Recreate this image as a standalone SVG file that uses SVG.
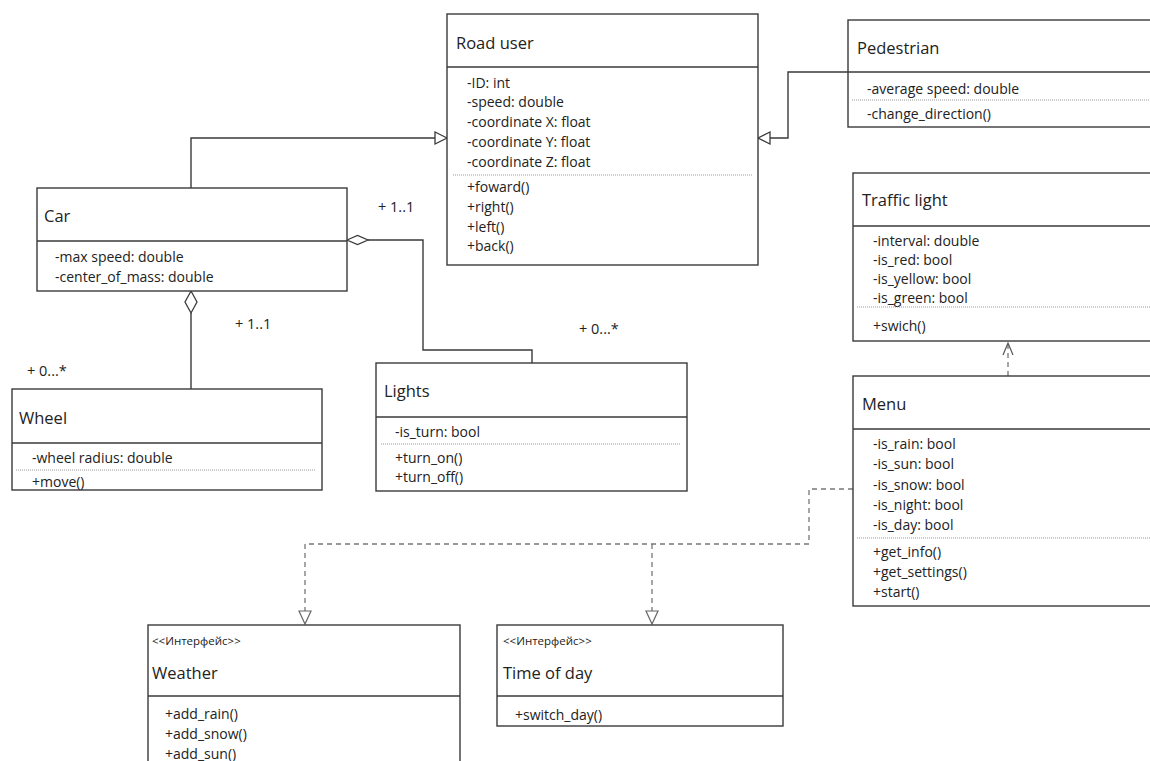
<svg xmlns="http://www.w3.org/2000/svg" width="1150" height="761" viewBox="0 0 1150 761">
<style>
.box{fill:#fff;stroke:#3a3a3a;stroke-width:1.4}
.div{stroke:#3a3a3a;stroke-width:1.4}
.dot{stroke:#999;stroke-width:1;stroke-dasharray:1,1}
.t{font-family:"Open Sans","DejaVu Sans",sans-serif;font-size:16.5px;fill:#222;dominant-baseline:central}
.a{font-family:"Open Sans","DejaVu Sans",sans-serif;font-size:14px;fill:#222;dominant-baseline:central}
.s{font-family:"Open Sans","DejaVu Sans",sans-serif;font-size:11.5px;fill:#222;dominant-baseline:central}
.m{font-family:"Open Sans","DejaVu Sans",sans-serif;font-size:14.5px;fill:#222;dominant-baseline:central}
.ln{fill:none;stroke:#3a3a3a;stroke-width:1.4}
.dl{fill:none;stroke:#777;stroke-width:1.3;stroke-dasharray:5,4}
.tri{fill:#fff;stroke:#3a3a3a;stroke-width:1.3}
.tri2{fill:#fff;stroke:#666;stroke-width:1.2}
</style>
<rect width="1150" height="761" fill="#fff"/>
<g id="connectors">
<polyline class="ln" points="191,188 191,138 435,138"/>
<polygon class="tri" points="447,138 435,132 435,144"/>
<polyline class="ln" points="848,72 788,72 788,138 770,138"/>
<polygon class="tri" points="758,138 770,132 770,144"/>
<polyline class="ln" points="368,240 423,240 423,350 532,350 532,363"/>
<polygon class="tri" points="347,240 357.5,235.5 368,240 357.5,244.5"/>
<polyline class="ln" points="191,313 191,389"/>
<polygon class="tri" points="191,291 197,302 191,313 185,302"/>
<line class="dl" x1="1008" y1="376" x2="1008" y2="344"/>
<polyline fill="none" stroke="#555" stroke-width="1.2" points="1003,355 1008,343 1013,355"/>
<polyline class="dl" points="853,489 809,489 809,544 305,544 305,611"/>
<line class="dl" x1="652" y1="544" x2="652" y2="611"/>
<polygon class="tri2" points="305,624 299,611 311,611"/>
<polygon class="tri2" points="652,624 646,611 658,611"/>
<text class="m" x="378" y="206">+ 1..1</text>
<text class="m" x="235" y="323">+ 1..1</text>
<text class="m" x="27" y="370">+ 0...*</text>
<text class="m" x="579" y="328">+ 0...*</text>
</g>
<g id="road-user">
<rect class="box" x="447" y="14" width="311" height="251"/>
<line class="div" x1="447" y1="67" x2="758" y2="67"/>
<text class="t" x="456" y="42">Road user</text>
<text class="a" x="467" y="82">-ID: int</text>
<text class="a" x="467" y="101">-speed: double</text>
<text class="a" x="467" y="121">-coordinate X: float</text>
<text class="a" x="467" y="141">-coordinate Y: float</text>
<text class="a" x="467" y="161">-coordinate Z: float</text>
<line class="dot" x1="453" y1="175" x2="753" y2="175"/>
<text class="a" x="467" y="186">+foward()</text>
<text class="a" x="467" y="206">+right()</text>
<text class="a" x="467" y="226">+left()</text>
<text class="a" x="467" y="245">+back()</text>
</g>
<g id="pedestrian">
<rect class="box" x="848" y="20" width="310" height="107"/>
<line class="div" x1="848" y1="72" x2="1158" y2="72"/>
<text class="t" x="857" y="47">Pedestrian</text>
<text class="a" x="867" y="88">-average speed: double</text>
<line class="dot" x1="852" y1="100" x2="1150" y2="100"/>
<text class="a" x="867" y="113">-change_direction()</text>
</g>
<g id="car">
<rect class="box" x="37" y="188" width="310" height="103"/>
<line class="div" x1="37" y1="241" x2="347" y2="241"/>
<text class="t" x="44" y="215">Car</text>
<text class="a" x="55" y="256">-max speed: double</text>
<text class="a" x="55" y="276">-center_of_mass: double</text>
</g>
<g id="wheel">
<rect class="box" x="12" y="389" width="310" height="101"/>
<line class="div" x1="12" y1="443" x2="322" y2="443"/>
<text class="t" x="19" y="417">Wheel</text>
<text class="a" x="32" y="457">-wheel radius: double</text>
<line class="dot" x1="16" y1="470" x2="316" y2="470"/>
<text class="a" x="32" y="481">+move()</text>
</g>
<g id="lights">
<rect class="box" x="376" y="363" width="311" height="128"/>
<line class="div" x1="376" y1="417" x2="687" y2="417"/>
<text class="t" x="384" y="390">Lights</text>
<text class="a" x="395" y="431">-is_turn: bool</text>
<line class="dot" x1="381" y1="444" x2="681" y2="444"/>
<text class="a" x="395" y="457">+turn_on()</text>
<text class="a" x="395" y="476">+turn_off()</text>
</g>
<g id="traffic-light">
<rect class="box" x="853" y="173" width="305" height="168"/>
<line class="div" x1="853" y1="226" x2="1158" y2="226"/>
<text class="t" x="862" y="199">Traffic light</text>
<text class="a" x="873" y="240">-interval: double</text>
<text class="a" x="873" y="259">-is_red: bool</text>
<text class="a" x="873" y="278">-is_yellow: bool</text>
<text class="a" x="873" y="297">-is_green: bool</text>
<line class="dot" x1="857" y1="307" x2="1150" y2="307"/>
<text class="a" x="873" y="325">+swich()</text>
</g>
<g id="menu">
<rect class="box" x="853" y="376" width="305" height="230"/>
<line class="div" x1="853" y1="429" x2="1158" y2="429"/>
<text class="t" x="862" y="403">Menu</text>
<text class="a" x="873" y="443">-is_rain: bool</text>
<text class="a" x="873" y="463">-is_sun: bool</text>
<text class="a" x="873" y="484">-is_snow: bool</text>
<text class="a" x="873" y="504">-is_night: bool</text>
<text class="a" x="873" y="524">-is_day: bool</text>
<line class="dot" x1="857" y1="538" x2="1150" y2="538"/>
<text class="a" x="873" y="551">+get_info()</text>
<text class="a" x="873" y="571">+get_settings()</text>
<text class="a" x="873" y="591">+start()</text>
</g>
<g id="weather">
<rect class="box" x="148" y="625" width="312" height="150"/>
<line class="div" x1="148" y1="696" x2="460" y2="696"/>
<text class="s" x="152" y="640">&lt;&lt;Интерфейс&gt;&gt;</text>
<text class="t" x="152" y="672">Weather</text>
<text class="a" x="165" y="713">+add_rain()</text>
<text class="a" x="165" y="733">+add_snow()</text>
<text class="a" x="165" y="753">+add_sun()</text>
</g>
<g id="time-of-day">
<rect class="box" x="497" y="625" width="286" height="101"/>
<line class="div" x1="497" y1="696" x2="783" y2="696"/>
<text class="s" x="503" y="640">&lt;&lt;Интерфейс&gt;&gt;</text>
<text class="t" x="503" y="672">Time of day</text>
<text class="a" x="515" y="714">+switch_day()</text>
</g>
</svg>
